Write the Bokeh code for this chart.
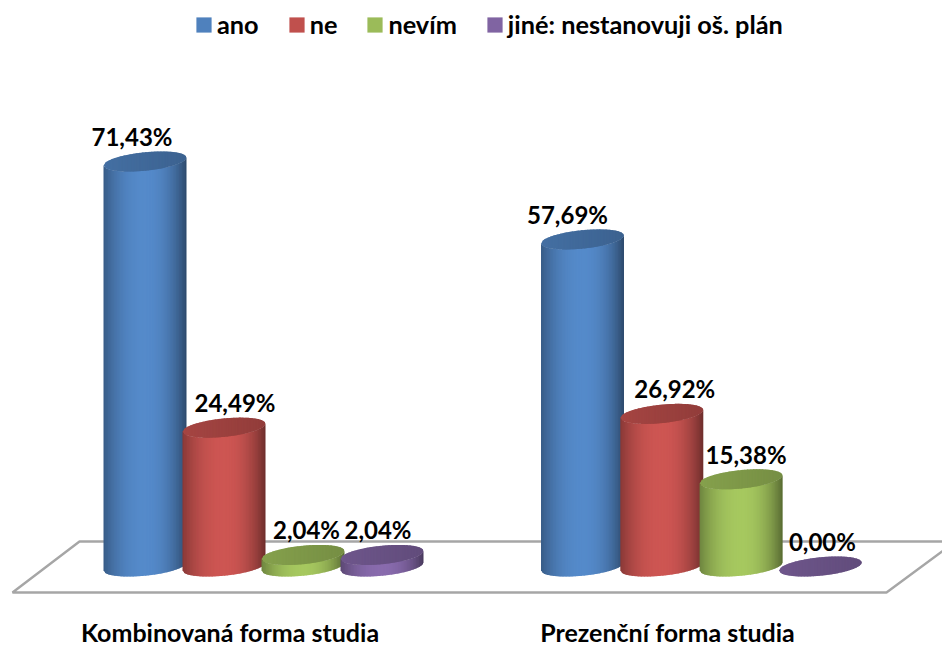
import math
from bokeh.core.properties import value
from bokeh.embed import file_html
from bokeh.models import ColumnDataSource, Legend, LegendItem, Range1d
from bokeh.plotting import figure
from bokeh.resources import INLINE

# Survey results in percent, one list per answer
categories = ["Kombinovaná forma studia", "Prezenční forma studia"]
series_names = ["ano", "ne", "nevím", "jiné: nestanovuji oš. plán"]
ano = [71.43, 57.69]
ne = [24.49, 26.92]
nevim = [2.04, 15.38]
jine = [2.04, 0.00]
series_values = [ano, ne, nevim, jine]
series_colors = ["#4f81bd", "#c0504d", "#9bbb59", "#8064a2"]

# Page geometry, in pixels
W, H = 942, 645
BASE_Y = 566            # pixel row of value 0
PX_PER_UNIT = 5.67
HALF_W = 41.5           # half width of a cylinder
ELL_B = 9.2             # vertical half axis of the cylinder's end ellipse
SHEAR = 4.0             # how far the ellipse's right end rises
STRIPS = 56
OVERLAP = 1.0           # each strip runs under the next one so no seams show
GROUP_LEFT = [144.5, 582.0]
GROUP_STEP = [79.0, 79.3]
LABEL_DX = [[-13, -15], [11, 13], [3.5, 5], [-4, 2]]
LABEL_DY = 25
CATEGORY_X = [229.5, 667]
CATEGORY_ROW = 631.5
FONT = "Lato"


def px(dy):
    return dy / PX_PER_UNIT


def shade(hex_color, factor):
    parts = [int(hex_color[i:i + 2], 16) for i in (1, 3, 5)]
    return "#%02x%02x%02x" % tuple(min(255, max(0, round(c * factor))) for c in parts)


def body_factor(u):
    return 1.07 - (0.36 if u < 0 else 0.50) * abs(u) ** 2.2


def top_factor(u):
    return 0.81 - 0.05 * u


def half_height(u):
    return ELL_B * math.sqrt(max(0.0, 1 - u * u))


p = figure(width=W, height=H, output_backend="svg", toolbar_location=None,
           x_range=Range1d(0, W),
           y_range=Range1d(px(BASE_Y - H), px(BASE_Y)),
           min_border=0, outline_line_color=None)
p.axis.visible = False
p.grid.visible = False
p.background_fill_color = "white"

# Floor plate under the columns
floor_x = [79, 955, 886, 12]
floor_y = [px(BASE_Y - r) for r in (541, 541, 592, 592)]
p.patch(floor_x + floor_x[:1], floor_y + floor_y[:1], fill_color="white",
        line_color="#a6a6a6", line_width=2.4)

legend_items = []
for s, (name, values, color) in enumerate(zip(series_names, series_values, series_colors)):
    centers = [GROUP_LEFT[g] + s * GROUP_STEP[g] for g in range(len(values))]

    # Flat core of each column; it also supplies the legend swatch
    core = p.vbar(x=centers, top=values, bottom=0, width=HALF_W, fill_color=color, line_color=None)
    legend_items.append(LegendItem(label=name, renderers=[core]))

    xs, ys, fills = [], [], []
    top_xs, top_ys, top_fills = [], [], []
    for cx, v in zip(centers, values):
        for i in range(STRIPS):
            u0 = -1 + 2 * i / STRIPS
            u1 = min(1.0, -1 + 2 * (i + 1) / STRIPS + OVERLAP / HALF_W)
            x0, x1 = cx + HALF_W * u0, cx + HALF_W * u1
            um = -1 + (2 * i + 1) / STRIPS
            # Side wall strip between the lower rims of the two end ellipses
            if v > 0:
                xs.append([x0, x1, x1, x0])
                ys.append([
                    px(-half_height(u0) + SHEAR * u0), px(-half_height(u1) + SHEAR * u1),
                    v + px(-half_height(u1) + SHEAR * u1), v + px(-half_height(u0) + SHEAR * u0),
                ])
                fills.append(shade(color, body_factor(um)))
            # Top face strip
            top_xs.append([x0, x1, x1, x0])
            top_ys.append([
                v + px(-half_height(u0) + SHEAR * u0), v + px(-half_height(u1) + SHEAR * u1),
                v + px(half_height(u1) + SHEAR * u1), v + px(half_height(u0) + SHEAR * u0),
            ])
            top_fills.append(shade(color, top_factor(um)))
    if xs:
        p.patches("xs", "ys", source=ColumnDataSource(dict(xs=xs, ys=ys, c=fills)),
                  fill_color="c", line_color=None)
    p.patches("xs", "ys", source=ColumnDataSource(dict(xs=top_xs, ys=top_ys, c=top_fills)),
              fill_color="c", line_color=None)

# Value labels, drawn from the same numbers as the columns
lab_x, lab_y, lab_t = [], [], []
for s, values in enumerate(series_values):
    for g, v in enumerate(values):
        lab_x.append(GROUP_LEFT[g] + s * GROUP_STEP[g] + LABEL_DX[s][g])
        lab_y.append(v + px(LABEL_DY))
        lab_t.append(f"{v:.2f}".replace(".", ",") + "%")
p.text(lab_x, lab_y, text=lab_t, text_font=value(FONT), text_font_style="bold",
       text_font_size="24px", text_color="black", text_align="center", text_baseline="middle")

# Group names below the floor
p.text(CATEGORY_X, [px(BASE_Y - CATEGORY_ROW)] * 2, text=categories, text_font=value(FONT),
       text_font_style="bold", text_font_size="25px", text_color="black",
       text_align="center", text_baseline="middle", text_line_height=1.0)

legend = Legend(items=legend_items, orientation="horizontal", location=(194, H - 39),
                spacing=28, padding=0, margin=0, label_standoff=4,
                glyph_width=19, glyph_height=19,
                border_line_color=None, background_fill_alpha=0,
                label_text_font=FONT, label_text_font_style="bold",
                label_text_font_size="25.3px", label_text_color="black",
                label_height=19)
p.add_layout(legend, "center")

open("out.html", "w").write(file_html(p, INLINE))
